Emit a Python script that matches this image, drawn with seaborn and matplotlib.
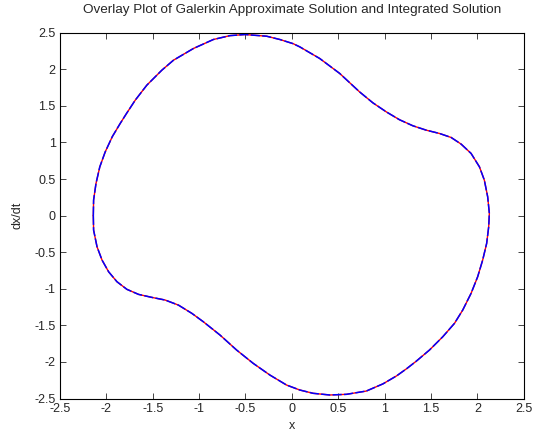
import numpy as np
import pandas as pd
import matplotlib
matplotlib.use("Agg")
import matplotlib.pyplot as plt
import seaborn as sns
from matplotlib.ticker import FormatStrFormatter

# points, clockwise starting at the leftmost point
x_vals = [
    -2.14, -2.137, -2.111, -2.07, -2.012, -1.935, -1.85, -1.78, -1.688, -1.563,
    -1.401, -1.276, -1.061, -0.846, -0.667, -0.505, -0.272, -0.129, 0.014, 0.086,
    0.301, 0.516, 0.731, 0.874, 1.018, 1.161, 1.304, 1.448, 1.591, 1.717,
    1.825, 1.932, 2.022, 2.075, 2.111, 2.129, 2.122, 2.1, 2.057, 2.003,
    1.932, 1.842, 1.753, 1.627, 1.484, 1.341, 1.24, 1.13, 0.982, 0.803,
    0.588, 0.409, 0.229, 0.086, -0.057, -0.237, -0.416, -0.595, -0.774, -0.954,
    -1.078, -1.223, -1.366, -1.509, -1.652, -1.778, -1.885, -1.975, -2.046, -2.1,
    -2.137, -2.14,
]
dxdt_vals = [
    0.0, 0.212, 0.44, 0.667, 0.87, 1.08, 1.26, 1.40, 1.578, 1.783,
    1.988, 2.124, 2.284, 2.407, 2.46, 2.475, 2.452, 2.407, 2.35, 2.306,
    2.147, 1.943, 1.69, 1.541, 1.418, 1.31, 1.228, 1.168, 1.123, 1.068,
    0.977, 0.85, 0.667, 0.485, 0.257, 0.03, -0.153, -0.38, -0.608, -0.836,
    -1.063, -1.291, -1.473, -1.656, -1.837, -1.99, -2.09, -2.19, -2.30, -2.398,
    -2.443, -2.452, -2.429, -2.384, -2.316, -2.179, -2.02, -1.838, -1.633, -1.451,
    -1.336, -1.223, -1.154, -1.118, -1.077, -1.008, -0.904, -0.768, -0.608, -0.426,
    -0.198, 0.0,
]

ticks = [-2.5, -2, -1.5, -1, -0.5, 0, 0.5, 1, 1.5, 2, 2.5]

sns.set_style("ticks")
plt.rcParams["font.family"] = ["Liberation Sans", "DejaVu Sans"]

df = pd.DataFrame({"x": x_vals, "dxdt": dxdt_vals})

fig = plt.figure(figsize=(5.35, 4.36), dpi=100)
ax = fig.add_axes([0.112, 0.086, 0.867, 0.839])

# galerkin approximation (red) under the integrated solution (blue dashed)
sns.lineplot(data=df, x="x", y="dxdt", sort=False, estimator=None,
             color="red", linewidth=1.0, ax=ax)
sns.lineplot(data=df, x="x", y="dxdt", sort=False, estimator=None,
             color="blue", linewidth=1.1, linestyle=(0, (6, 1.5)), ax=ax)

ax.set_xlim(-2.5, 2.5)
ax.set_ylim(-2.5, 2.5)
ax.set_xticks(ticks)
ax.set_yticks(ticks)
ax.xaxis.set_major_formatter(FormatStrFormatter("%g"))
ax.yaxis.set_major_formatter(FormatStrFormatter("%g"))
ax.tick_params(direction="in", top=True, right=True, length=4, width=0.6,
               labelsize=9, pad=3)
for side in ax.spines.values():
    side.set_linewidth(0.8)
    side.set_color("black")

ax.set_title("Overlay Plot of Galerkin Approximate Solution and Integrated Solution",
             fontsize=9.7, pad=14)
ax.set_xlabel("x", fontsize=9, labelpad=4)
ax.set_ylabel("dx/dt", fontsize=9, labelpad=8)

fig.savefig("out.png", dpi=100, facecolor="white")
